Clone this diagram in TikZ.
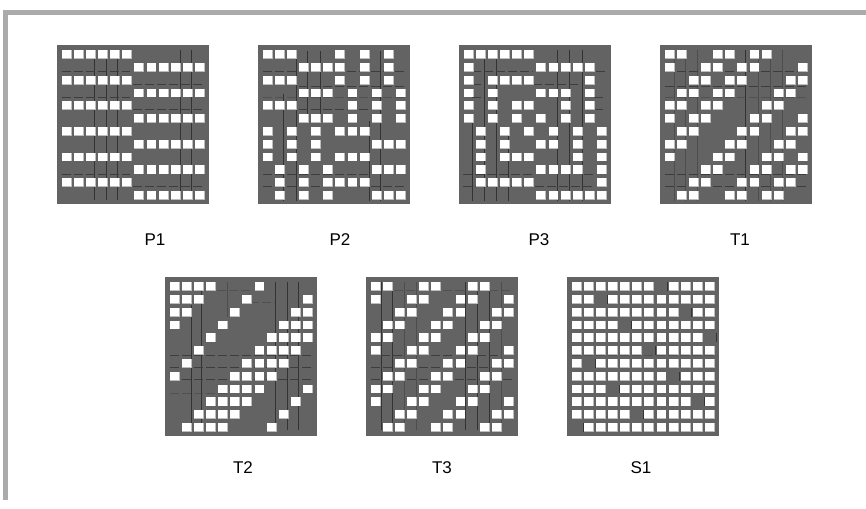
\documentclass[tikz,border=0pt]{standalone}
\usepackage{fontspec}
\setmainfont{Liberation Sans}
\usetikzlibrary{positioning}
\definecolor{GridGray}{HTML}{636363}
\definecolor{FrameGray}{HTML}{ABABAB}
\definecolor{EdgeGray}{HTML}{BDBDBD}
\definecolor{SeamGray}{HTML}{333333}

% one white cell, row #1, column #2
\newcommand{\wcell}[2]{%
  \fill[EdgeGray] ({4.8+(#2-1)*12.1},{5.2+(#1-1)*12.8}) rectangle ++(9.9,8.8);
  \fill[white] ({4.8+(#2-1)*12.1},{5.2+(#1-1)*12.8}) rectangle ++(9,8.1);
}
% cells given row by row
\newcommand{\listgrid}[1]{%
  \foreach \r/\cols in {#1}
    \foreach \c in \cols {\wcell{\r}{\c}}
}
% cells where (row+col) mod 12 is in #1
\newcommand{\circgrid}[1]{%
  \foreach \r in {1,...,12}
    \foreach \c in {1,...,12}{
      \pgfmathtruncatemacro{\m}{mod(\r+\c,12)}
      \foreach \k in {#1}{\ifnum\m=\k\relax\wcell{\r}{\c}\fi}
    }
}
% thin seams: x/y1/y2 and y/x1/x2
\newcommand{\vseams}[2][]{%
  \foreach \x/\ya/\yb in {#2} \draw[seam,#1] (\x,\ya) -- (\x,\yb);
}
\newcommand{\hseams}[2][]{%
  \foreach \y/\xa/\xb in {#2} \draw[hseam,#1] (\xa,\y) -- (\xb,\y);
}

\begin{document}
\begin{tikzpicture}[
  x=1pt, y=-1pt,
  panel/.style={fill=GridGray, minimum width=152pt, minimum height=159pt, inner sep=0pt, outer sep=0pt, anchor=north west},
  tag/.style={font=\fontsize{17}{17}\selectfont, inner sep=0pt},
  seam/.style={draw=SeamGray, line width=0.8pt},
  hseam/.style={draw=SeamGray!80!GridGray, line width=0.8pt, dash pattern=on 9pt off 3pt},
  faint/.style={opacity=0.45}
]
  \useasboundingbox (0,0) rectangle (866,508);
  \draw[FrameGray, line width=4.5pt] (866,12.5) -- (5.5,12.5) -- (5.5,500);

  \node[panel] (p1) at (57,45) {};
  \node[panel] (p2) at (258,45) {};
  \node[panel] (p3) at (459,45) {};
  \node[panel] (t1) at (660,45) {};
  \node[panel] (t2) at (165,277) {};
  \node[panel] (t3) at (366,277) {};
  \node[panel] (s1) at (567,277) {};

  \node[tag] (lp1) at (155,240) {P1};
  \node[tag] (lp2) at (340,240) {P2};
  \node[tag] (lp3) at (539,240) {P3};
  \node[tag] (lt1) at (740,240) {T1};
  \node[tag] (lt2) at (243,468) {T2};
  \node[tag] (lt3) at (442,468) {T3};
  \node[tag] (ls1) at (641,468) {S1};

  % P1
  \begin{scope}[shift={(p1.north west)}]
    \vseams{37/12.7/155, 49.7/12.7/155, 60.8/12.7/155, 122.9/5/155, 134/5/155}
    \hseams{26/4.5/73, 52.7/4.5/73, 129/4.5/73, 39.3/76/146, 64.3/76/146, 141/76/146}
    \foreach \r in {1,3,...,11}
      \foreach \c in {1,...,6} {\wcell{\r}{\c}}
    \foreach \r in {2,4,...,12}
      \foreach \c in {7,...,12} {\wcell{\r}{\c}}
  \end{scope}

  % P2
  \begin{scope}[shift={(p2.north west)}]
    \vseams{25.6/49/156, 38/6/156, 49/6/76, 62/6/76, 111/76/156, 122.3/6/156}
    \hseams{26/5/146, 41/41/146, 64.3/41/111, 129/5/111, 141/5/146}
    \hseams[faint]{52.7/5/146}
    \listgrid{1/{1,2,3,7,9,11}, 2/{4,5,6,7,9,11}, 3/{1,2,3,7,9,11},
      4/{4,5,6,8,10,12}, 5/{1,2,3,8,10,12}, 6/{4,5,6,8,10,12},
      7/{1,3,5,7,8,9}, 8/{1,3,5,10,11,12}, 9/{1,3,5,7,8,9},
      10/{2,4,6,10,11,12}, 11/{2,4,6,7,8,9}, 12/{2,4,6,10,11,12}}
  \end{scope}

  % P3
  \begin{scope}[shift={(p3.north west)}]
    \vseams{13.5/76/156, 25.6/5/156, 37.7/5/156, 49.7/82/156, 98/5/156, 110/5/156, 123.5/5/156}
    \hseams{26/13/74, 26/137/146, 39.3/13/25, 39.3/74/122, 52.7/13/25, 52.7/135/146,
      64.3/135/146, 129/4/74, 129/125/137, 141/4/134}
    \listgrid{1/{1,2,3,4,5,6}, 2/{1,7,8,9,10,11}, 3/{1,3,4,5,6,11},
      4/{1,3,7,8,9,11}, 5/{1,3,5,6,9,11}, 6/{1,3,5,7,9,11},
      7/{2,4,6,8,10,12}, 8/{2,4,7,8,10,12}, 9/{2,4,5,6,10,12},
      10/{2,7,8,9,10,12}, 11/{2,3,4,5,6,12}, 12/{7,8,9,10,11,12}}
  \end{scope}

  % T1
  \begin{scope}[shift={(t1.north west)}]
    \vseams{85.8/5/156}
    \vseams[faint]{14.5/5/156, 25.6/5/156, 37.7/5/156, 98/5/156, 110/5/156, 122/5/156}
    \hseams{26/5/146, 41/5/146, 129/5/146, 141/5/146}
    \hseams[faint]{52.7/5/146}
    \circgrid{2,3,6,7,9,10}
  \end{scope}

  % T2
  \begin{scope}[shift={(t2.north west)}]
    \vseams{26.2/28/153, 36.7/5/153, 110.5/5/153, 122.6/5/153, 133.7/5/153}
    \vseams[faint]{62/5/40}
    \hseams{78.3/5/146, 90/5/146, 102/5/146}
    \hseams[faint]{116.7/5/65, 13.3/52/85, 25/85/110}
    \circgrid{2,3,4,5,9}
  \end{scope}

  % T3
  \begin{scope}[shift={(t3.north west)}]
    \vseams{15/5/153, 26/5/153, 99.4/5/153, 111.4/5/153, 123/5/153}
    \vseams[faint]{38.5/5/153, 50/5/153, 135/5/153}
    \hseams{78.3/15/38, 78.3/65/87, 78.3/111/135, 90/5/146, 102/5/146}
    \hseams[faint]{13.3/28/50, 13.3/77/99, 13.3/123/146}
    \circgrid{2,3,6,7,10,11}
  \end{scope}

  % S1
  \begin{scope}[shift={(s1.north west)}]
    \hseams[faint]{78.3/5/146}
    \foreach \r in {1,...,12}
      \foreach \c in {1,...,12}{
        \pgfmathtruncatemacro{\m}{mod(7*\r+13-\c,12)}
        \ifnum\m>0\relax\wcell{\r}{\c}\else
          \draw[seam] ({3.8+\c*12.1},{5.2+(\r-1)*12.8}) -- ++(0,8.8);
        \fi
      }
  \end{scope}
\end{tikzpicture}
\end{document}
